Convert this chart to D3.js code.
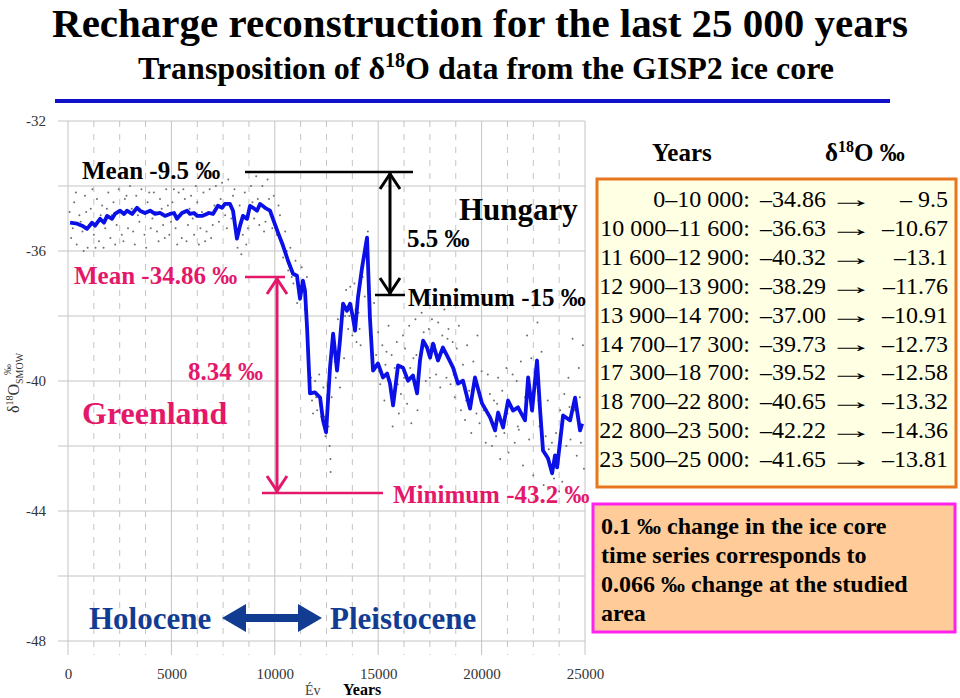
<!DOCTYPE html>
<html>
<head>
<meta charset="utf-8">
<script src="https://cdn.jsdelivr.net/npm/d3@7"></script>
<style>
  body { margin: 0; background: #fff; }
  svg { display: block; }
  svg text { font-family: "Liberation Serif", "Times New Roman", serif; }
</style>
</head>
<body>
<svg width="960" height="698"></svg>
<script>
// smoothed GISP2 curve (years BP, d18O permil)
const lineYears = [100, 440, 680, 920, 1160, 1310, 1550, 1740, 1890, 2130, 2270, 2520, 2710, 2850, 3100, 3340, 3480, 3720, 3970, 4210, 4450, 4690, 4930, 5130, 5270, 5510, 5760, 5900, 6090, 6240, 6480, 6820, 7010, 7250, 7450, 7590, 7830, 7980, 8170, 8320, 8460, 8660, 8800, 8950, 9140, 9290, 9530, 9770, 9910, 10160, 10400, 10640, 10880, 11070, 11220, 11360, 11460, 11560, 11700, 11940, 12190, 12330, 12480, 12670, 12820, 13010, 13150, 13300, 13490, 13640, 13780, 13880, 14020, 14220, 14460, 14600, 14750, 14990, 15230, 15430, 15570, 15720, 15960, 16200, 16440, 16680, 16880, 17020, 17170, 17360, 17510, 17650, 17890, 18130, 18380, 18620, 18860, 19100, 19440, 19680, 20020, 20410, 20650, 20800, 21040, 21280, 21520, 21760, 22100, 22250, 22440, 22680, 22830, 22970, 23210, 23410, 23550, 23650, 23940, 24280, 24520, 24760, 24860];
const lineValues = [-35.13, -35.16, -35.22, -35.32, -35.13, -35.22, -35.01, -35.13, -34.92, -35.01, -34.86, -34.76, -34.86, -34.76, -34.86, -34.67, -34.76, -34.83, -34.76, -34.86, -34.83, -34.92, -34.86, -34.83, -35.01, -34.83, -34.76, -34.86, -34.83, -34.92, -34.92, -34.83, -34.86, -34.61, -34.67, -34.55, -34.55, -34.76, -35.62, -35.22, -34.92, -35.01, -34.61, -34.67, -34.76, -34.55, -34.67, -34.76, -35.01, -35.44, -35.84, -36.30, -36.70, -36.76, -37.47, -36.91, -37.22, -38.36, -40.38, -40.35, -40.51, -41.21, -41.58, -39.59, -38.54, -39.68, -38.76, -37.62, -37.84, -37.62, -38.05, -38.45, -37.44, -36.51, -35.59, -38.05, -39.68, -39.46, -39.89, -39.77, -40.08, -40.75, -39.52, -39.59, -39.99, -39.83, -40.38, -39.37, -38.76, -38.97, -39.28, -38.85, -39.37, -38.97, -39.28, -39.59, -40.08, -39.99, -40.85, -39.89, -40.69, -41.12, -41.52, -40.97, -41.43, -40.60, -40.91, -40.81, -41.21, -39.89, -40.91, -39.37, -40.91, -42.14, -42.38, -42.84, -42.29, -42.66, -41.06, -41.21, -40.51, -41.52, -41.31];

// raw ice-core samples shown as small grey dots
const rawPoints = [
  [150,-35.6],[300,-34.5],[420,-35.8],[550,-34.9],[700,-35.4],[820,-34.3],[950,-35.9],[1100,-34.7],[1250,-35.5],[1400,-34.4],
  [1500,-35.7],[1650,-34.6],[1800,-35.3],[1950,-34.2],[2050,-35.6],[2200,-34.5],[2350,-35.2],[2450,-34.1],[2600,-35.5],[2750,-34.4],
  [2900,-35.3],[3000,-34.0],[3150,-35.4],[3300,-34.3],[3450,-35.1],[3550,-34.1],[3700,-35.5],[3850,-34.5],[4000,-35.3],[4150,-34.2],
  [4300,-35.4],[4450,-34.4],[4600,-35.2],[4750,-34.1],[4900,-35.5],[5050,-34.5],[5200,-35.3],[5350,-34.2],[5500,-35.6],[5650,-34.4],
  [5800,-35.2],[5950,-34.3],[6100,-35.5],[6250,-34.5],[6400,-35.3],[6550,-34.2],[6700,-35.4],[6850,-34.1],
  [80,-34.8],[230,-35.3],[380,-34.2],[610,-35.1],[760,-36.0],[880,-34.8],[1030,-35.2],[1180,-34.1],[1330,-35.9],[1580,-34.9],
  [1720,-35.9],[1880,-34.7],[2120,-34.9],[2280,-35.8],[2520,-34.8],[2680,-35.7],[2830,-34.3],[3080,-34.7],[3230,-35.8],[3380,-34.9],
  [3620,-34.8],[3780,-35.9],[3930,-34.2],[4080,-35.0],[4230,-34.8],[4380,-35.7],[4530,-34.7],[4680,-35.6],[4830,-34.6],[4980,-35.1],
  [5120,-34.1],[5280,-35.8],[5430,-34.9],[5580,-34.1],[5730,-35.7],[5880,-34.7],[6030,-35.0],[6180,-34.0],[6330,-35.8],[6480,-34.8],
  [6630,-35.7],[6780,-34.8],[6920,-35.6],
  [7000,-35.2],[7150,-34.0],[7300,-35.1],[7450,-33.9],[7600,-34.9],[7750,-33.8],[7900,-35.0],[8050,-34.1],[8200,-35.9],[8300,-34.6],
  [8450,-35.5],[8550,-34.2],[8700,-35.3],[8850,-34.0],[9000,-35.0],[9100,-33.7],[9250,-35.2],[9400,-34.0],[9550,-35.1],[9650,-33.8],
  [9800,-34.9],[9950,-34.3],[7080,-34.6],[7380,-34.4],[7680,-35.3],[7980,-34.3],[8380,-36.1],[8620,-35.8],[8920,-34.5],[9180,-34.4],
  [9480,-35.4],[9720,-34.4],[9880,-35.3],
  [10100,-35.5],[10250,-34.9],[10400,-36.2],[10500,-35.4],[10650,-36.6],[10750,-35.9],[10900,-37.0],[11000,-36.3],[11150,-37.3],[11300,-36.5],
  [11450,-37.8],[11550,-36.8],[10180,-34.6],[10330,-35.7],[10580,-36.0],[10820,-36.8],[11080,-37.6],[11380,-37.1],
  [11750,-39.9],[11850,-41.0],[11950,-40.0],[12050,-40.9],[12150,-39.8],[12250,-41.1],[12350,-40.2],[12450,-41.7],[12550,-40.8],[12650,-42.0],
  [12690,-42.4],[12700,-42.8],[11800,-40.6],[12000,-40.5],[12200,-40.7],[12400,-41.1],[12600,-41.4],
  [12750,-40.5],[12850,-38.9],[12950,-39.9],[13050,-38.1],[13150,-40.2],[13250,-38.3],[13350,-39.3],[13450,-37.2],[13550,-38.4],[13650,-37.1],
  [13750,-38.6],[13850,-37.0],[13950,-38.8],[14050,-37.9],[14150,-38.9],[14250,-36.8],[14350,-37.4],[14450,-35.9],[14550,-36.6],
  [12900,-39.4],[13100,-39.1],[13400,-38.0],[13600,-38.0],[13900,-37.8],[14100,-38.4],[14300,-36.3],[14500,-35.4],
  [14700,-38.7],[14800,-37.6],[14900,-39.2],[15000,-38.5],[15100,-40.1],[15200,-38.9],[15300,-40.6],[15400,-39.1],[15500,-38.3],[15600,-40.3],
  [15700,-41.4],[15800,-39.6],[15900,-38.8],[16000,-41.0],[16100,-40.4],[16200,-38.6],[16300,-39.0],[16400,-40.7],[16500,-38.3],[16600,-41.3],
  [16700,-39.3],[16800,-38.1],[16900,-40.9],[17000,-39.7],[17100,-37.9],[17200,-38.5],[17300,-40.0],[17400,-37.6],[17500,-39.9],[17600,-38.1],
  [17700,-37.5],[17800,-39.8],[17900,-38.2],[18000,-40.2],[18100,-38.6],[18200,-37.8],[18300,-39.9],[18400,-38.4],[18500,-40.1],[18600,-38.8],
  [18700,-40.5],[18800,-39.0],[18900,-38.3],[15050,-39.7],[15350,-39.5],[15650,-39.2],[15950,-40.1],[16250,-39.9],[16550,-39.6],[16850,-39.2],
  [17150,-39.0],[17450,-38.4],[17750,-38.9],[18050,-39.1],[18350,-38.7],[18650,-39.8],
  [19000,-40.9],[19100,-39.5],[19200,-41.2],[19300,-38.9],[19400,-40.3],[19500,-41.6],[19600,-39.4],[19700,-40.0],[19800,-38.6],[19900,-41.3],
  [20000,-39.7],[20100,-40.9],[20200,-41.9],[20300,-39.8],[20400,-40.4],[20500,-42.0],[20600,-40.6],[20700,-41.7],[20800,-39.9],[20900,-42.4],
  [21000,-40.3],[21100,-41.6],[21200,-39.6],[21300,-42.2],[21400,-40.8],[21500,-39.8],[21600,-41.9],[21700,-40.0],[21800,-41.5],[21900,-39.4],
  [22000,-42.6],[22100,-40.5],[22200,-38.6],[22300,-41.8],[22400,-39.3],[22500,-42.9],[22600,-40.2],[22700,-38.2],[22800,-41.4],[22900,-39.1],
  [23000,-43.2],[23100,-41.7],[23200,-40.6],[23300,-43.3],[23400,-41.9],[23500,-43.0],[23600,-41.6],[23700,-42.2],[23800,-40.9],[23900,-43.1],
  [24000,-40.4],[24100,-42.0],[24200,-39.9],[24300,-41.8],[24400,-38.7],[24500,-40.9],[24600,-42.3],[24700,-39.6],[24800,-41.9],[24900,-38.9],
  [24950,-42.7],[19250,-40.6],[19750,-41.0],[20250,-40.9],[20750,-40.7],[21250,-41.0],[21750,-41.4],[22250,-40.1],[22750,-40.6],[23250,-42.1],
  [23750,-43.4],[24250,-40.8],[24750,-40.5]
];

const xTicks = [0, 5000, 10000, 15000, 20000, 25000];
const yTicks = [-32, -36, -40, -44, -48];

// table: Greenland -> Hungary transposition
const periods = ['0\u201310 000:', '10 000\u201311 600:', '11 600\u201312 900:', '12 900\u201313 900:', '13 900\u201314 700:',
  '14 700\u201317 300:', '17 300\u201318 700:', '18 700\u201322 800:', '22 800\u201323 500:', '23 500\u201325 000:'];
const iceValues = ['\u201334.86', '\u201336.63', '\u201340.32', '\u201338.29', '\u201337.00', '\u201339.73', '\u201339.52', '\u201340.65', '\u201342.22', '\u201341.65'];
const hungaryValues = ['\u2013 9.5', '\u201310.67', '\u201313.1', '\u201311.76', '\u201310.91', '\u201312.73', '\u201312.58', '\u201313.32', '\u201314.36', '\u201313.81'];

const noteLines = ['0.1 \u2030 change in the ice core', 'time series corresponds to', '0.066 \u2030 change at the studied', 'area'];

const svg = d3.select('svg');
const pink = '#e4186a';
const navy = '#123c92';

const x = d3.scaleLinear().domain([0, 25000]).range([68, 585]);
const y = d3.scaleLinear().domain([-48, -32]).range([641, 121]);

// title
svg.append('text').attr('x', 480).attr('y', 37).attr('text-anchor', 'middle')
  .attr('font-size', 41).attr('font-weight', 'bold').text('Recharge reconstruction for the last 25 000 years');
const sub = svg.append('text').attr('x', 486).attr('y', 79).attr('text-anchor', 'middle')
  .attr('font-size', 32).attr('font-weight', 'bold');
sub.append('tspan').text('Transposition of \u03b4');
sub.append('tspan').attr('font-size', 20).attr('dy', -12).text('18');
sub.append('tspan').attr('dy', 12).text('O data from the GISP2 ice core');
svg.append('rect').attr('x', 55).attr('y', 99).attr('width', 835).attr('height', 4).attr('fill', '#1010c8');

// grid
const grid = svg.append('g').attr('stroke', '#c4c4c4').attr('stroke-width', 1);
grid.selectAll('.hg').data(d3.range(-48, -31, 2)).enter().append('line')
  .attr('x1', 58).attr('x2', x(25000)).attr('y1', d => y(d)).attr('y2', d => y(d));
grid.selectAll('.vg').data(d3.range(0, 25001, 1250)).enter().append('line')
  .attr('x1', d => x(d)).attr('x2', d => x(d)).attr('y1', y(-32)).attr('y2', 655)
  .attr('stroke-dasharray', d => d % 5000 === 0 ? null : '6,7');

// axes (labels only)
const yAxis = svg.append('g').attr('transform', 'translate(46,0)')
  .call(d3.axisLeft(y).tickValues(yTicks).tickFormat(d => String(d)).tickSize(0).tickPadding(0));
yAxis.select('.domain').remove();
yAxis.selectAll('text').style('font-family', '"Liberation Serif", serif').attr('font-size', 15).attr('fill', '#333');

const xAxis = svg.append('g').attr('transform', 'translate(0,668)')
  .call(d3.axisBottom(x).tickValues(xTicks).tickFormat(d => String(d)).tickSize(0).tickPadding(0));
xAxis.select('.domain').remove();
xAxis.selectAll('text').style('font-family', '"Liberation Serif", serif').attr('font-size', 15).attr('fill', '#333');

svg.append('text').attr('x', 305).attr('y', 695).attr('font-size', 14).attr('fill', '#444').text('\u00c9v');
svg.append('text').attr('x', 343).attr('y', 695).attr('font-size', 16).attr('font-weight', 'bold').text('Years');

const yl = svg.append('text').attr('transform', 'translate(19,383) rotate(-90)').attr('text-anchor', 'middle')
  .attr('font-size', 16).attr('fill', '#333');
yl.append('tspan').text('\u03b4');
yl.append('tspan').attr('font-size', 10).attr('dy', -6).text('18');
yl.append('tspan').attr('dy', 6).text('O');
yl.append('tspan').attr('font-size', 10).attr('dy', 4).text('SMOW');
yl.append('tspan').attr('font-size', 11).attr('dx', -22).attr('dy', -12).text('\u2030');

// raw dots
svg.append('g').selectAll('circle').data(rawPoints).enter().append('circle')
  .attr('cx', d => x(d[0])).attr('cy', d => y(d[1])).attr('r', 1).attr('fill', '#6f6f6f');

// smoothed curve
const curve = d3.line().x((d, i) => x(lineYears[i])).y(d => y(d));
svg.append('path').datum(lineValues).attr('d', curve)
  .attr('fill', 'none').attr('stroke', '#0a10e6').attr('stroke-width', 3.8).attr('stroke-linejoin', 'round');

// annotations
function chevron(g, cx, cy, dir, color) {
  g.append('path').attr('d', `M${cx - 10},${cy + dir * 15} L${cx},${cy} L${cx + 10},${cy + dir * 15}`)
    .attr('fill', 'none').attr('stroke', color).attr('stroke-width', 3);
}
const ann = svg.append('g');
function label(tx, ty, txt, size, color) {
  return ann.append('text').attr('x', tx).attr('y', ty).attr('font-size', size)
    .attr('font-weight', 'bold').attr('fill', color).text(txt);
}

// black: Hungary
ann.append('line').attr('x1', 245).attr('x2', 413).attr('y1', 172).attr('y2', 172).attr('stroke', '#000').attr('stroke-width', 2.5);
ann.append('line').attr('x1', 390).attr('x2', 390).attr('y1', 173).attr('y2', 294).attr('stroke', '#000').attr('stroke-width', 3);
ann.append('line').attr('x1', 375).attr('x2', 405).attr('y1', 295).attr('y2', 295).attr('stroke', '#000').attr('stroke-width', 2.5);
chevron(ann, 390, 174, 1, '#000');
chevron(ann, 390, 293, -1, '#000');
label(82, 179, 'Mean -9.5 \u2030', 25, '#000');
label(459, 220, 'Hungary', 31, '#000');
label(407, 247, '5.5 \u2030', 25, '#000');
label(408, 306, 'Minimum -15 \u2030', 25, '#000');

// pink: Greenland
ann.append('line').attr('x1', 245).attr('x2', 285).attr('y1', 277).attr('y2', 277).attr('stroke', pink).attr('stroke-width', 2.5);
ann.append('line').attr('x1', 277).attr('x2', 277).attr('y1', 278).attr('y2', 492).attr('stroke', pink).attr('stroke-width', 3);
ann.append('line').attr('x1', 262).attr('x2', 383).attr('y1', 493).attr('y2', 493).attr('stroke', pink).attr('stroke-width', 2.5);
chevron(ann, 277, 279, 1, pink);
chevron(ann, 277, 491, -1, pink);
label(74, 284, 'Mean -34.86 \u2030', 25, pink);
label(188, 380, '8.34 \u2030', 25, pink);
label(82, 424, 'Greenland', 32, pink);
label(393, 503, 'Minimum -43.2 \u2030', 25, pink);

// Holocene / Pleistocene
label(89, 629, 'Holocene', 31, navy);
label(330, 629, 'Pleistocene', 31, navy);
ann.append('path')
  .attr('d', 'M222,618 L246,604 L246,614 L298,614 L298,604 L322,618 L298,632 L298,622 L246,622 L246,632 Z')
  .attr('fill', navy);

// table
svg.append('text').attr('x', 652).attr('y', 161).attr('font-size', 25).attr('font-weight', 'bold').text('Years');
const hd = svg.append('text').attr('x', 825).attr('y', 161).attr('font-size', 25).attr('font-weight', 'bold');
hd.append('tspan').text('\u03b4');
hd.append('tspan').attr('font-size', 16).attr('dy', -9).text('18');
hd.append('tspan').attr('dy', 9).text('O \u2030');

svg.append('rect').attr('x', 597).attr('y', 179).attr('width', 359).attr('height', 308)
  .attr('fill', '#ffffe4').attr('stroke', '#e8761e').attr('stroke-width', 3);
const rows = svg.append('g').attr('font-size', 24);
const rowY = i => 207 + i * 28.9;
rows.selectAll('.p').data(periods).enter().append('text')
  .attr('x', 750).attr('y', (d, i) => rowY(i)).attr('text-anchor', 'end').text(d => d);
rows.selectAll('.v').data(iceValues).enter().append('text')
  .attr('x', 760).attr('y', (d, i) => rowY(i)).text(d => d);
rows.selectAll('.a').data(periods).enter().append('text')
  .attr('transform', (d, i) => `translate(851,${rowY(i)}) scale(1.9,1)`).attr('text-anchor', 'middle').text('\u2192');
rows.selectAll('.h').data(hungaryValues).enter().append('text')
  .attr('x', 948).attr('y', (d, i) => rowY(i)).attr('text-anchor', 'end').text(d => d);

// note box
svg.append('rect').attr('x', 593).attr('y', 504).attr('width', 362).attr('height', 128)
  .attr('fill', '#ffcc99').attr('stroke', '#ff22ee').attr('stroke-width', 3);
svg.append('g').selectAll('text').data(noteLines).enter().append('text')
  .attr('x', 601).attr('y', (d, i) => 534 + i * 29).attr('font-size', 24).attr('font-weight', 'bold').text(d => d);
</script>
</body>
</html>
